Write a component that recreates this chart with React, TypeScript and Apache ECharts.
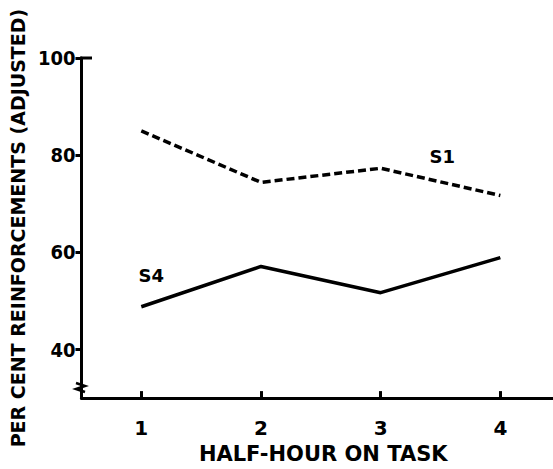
import React, { useEffect, useRef } from "react";
import * as echarts from "echarts";

const halfHours = [1, 2, 3, 4];
const s1Values = [85, 74.4, 77.3, 71.7];
const s4Values = [48.8, 57.1, 51.7, 58.9];
const yTicks = [40, 60, 80, 100];
const xTicks = [1, 2, 3, 4];

const FONT = "'DejaVu Sans', sans-serif";
const COND = "'DejaVu Sans Condensed', 'DejaVu Sans', sans-serif";

export default function App() {
  const ref = useRef<HTMLDivElement>(null);
  useEffect(() => {
    const chart = echarts.init(ref.current!, null, { renderer: "svg" });
    const labelStyle = {
      show: true,
      position: "top",
      fontFamily: FONT,
      fontWeight: "bold",
      fontSize: 18,
      color: "#000",
    };
    const s1 = halfHours.map((x, i) =>
      i === 3
        ? { value: [x, s1Values[i]], label: { ...labelStyle, formatter: "S1", offset: [-58, -24] } }
        : { value: [x, s1Values[i]], label: { show: false } }
    );
    const s4 = halfHours.map((x, i) =>
      i === 0
        ? { value: [x, s4Values[i]], label: { ...labelStyle, formatter: "S4", offset: [10, -17] } }
        : { value: [x, s4Values[i]], label: { show: false } }
    );
    chart.setOption({
      animation: false,
      backgroundColor: "#fff",
      grid: { left: 80, right: 0, top: 58, bottom: 62 },
      xAxis: {
        type: "value",
        min: 0.5,
        max: 4.44,
        name: "HALF-HOUR ON TASK",
        nameLocation: "middle",
        nameGap: 44,
        nameTextStyle: {
          fontFamily: FONT,
          fontWeight: "bold",
          fontSize: 21,
          color: "#000",
          verticalAlign: "top",
          padding: [0, 0, 0, 12],
        },
        splitLine: { show: false },
        axisLine: { lineStyle: { color: "#000", width: 3 } },
        axisTick: {
          inside: true,
          length: 7,
          customValues: xTicks,
          lineStyle: { color: "#000", width: 3 },
        },
        axisLabel: {
          customValues: xTicks,
          margin: 20,
          fontFamily: FONT,
          fontWeight: "bold",
          fontSize: 20,
          color: "#000",
        },
      },
      yAxis: {
        type: "value",
        min: 30,
        max: 100,
        name: "PER CENT REINFORCEMENTS (ADJUSTED)",
        nameLocation: "middle",
        nameGap: 50,
        nameTextStyle: {
          fontFamily: FONT,
          fontWeight: "bold",
          fontSize: 19,
          color: "#000",
        },
        splitLine: { show: false },
        axisLine: { lineStyle: { color: "#000", width: 3 } },
        axisTick: {
          length: 6,
          customValues: yTicks,
          lineStyle: { color: "#000", width: 3 },
        },
        axisLabel: {
          customValues: yTicks,
          margin: 6,
          fontFamily: COND,
          fontWeight: "bold",
          fontSize: 20,
          color: "#000",
        },
      },
      graphic: [
        {
          type: "line",
          shape: { x1: 80, y1: 58, x2: 92, y2: 58 },
          style: { stroke: "#000", lineWidth: 3 },
        },
        {
          type: "polyline",
          shape: {
            points: [
              [76, 383],
              [85, 386],
              [76, 389],
              [85, 392],
            ],
          },
          style: { stroke: "#000", lineWidth: 2.5, fill: "none" },
        },
      ],
      series: [
        {
          type: "line",
          name: "S1",
          data: s1,
          showSymbol: true,
          symbol: "circle",
          symbolSize: 1,
          itemStyle: { color: "rgba(0,0,0,0)" },
          lineStyle: { color: "#000", width: 3.5, type: [8, 4] },
        },
        {
          type: "line",
          name: "S4",
          data: s4,
          showSymbol: true,
          symbol: "circle",
          symbolSize: 1,
          itemStyle: { color: "rgba(0,0,0,0)" },
          lineStyle: { color: "#000", width: 3.5, type: "solid" },
        },
      ],
    });
    return () => chart.dispose();
  }, []);
  return (
    <div
      ref={ref}
      style={{ position: "fixed", left: 0, top: 0, width: 553, height: 469 }}
    />
  );
}
